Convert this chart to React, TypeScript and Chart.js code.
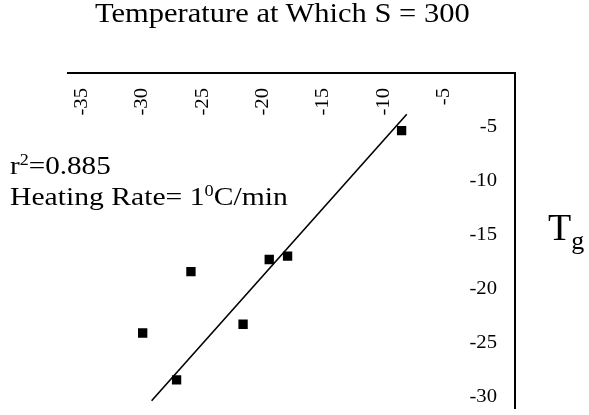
import React, { useEffect, useRef } from "react";
import { Chart, registerables } from "chart.js";

Chart.register(...registerables);

// ---- data ----
const xTickValues = [-35, -30, -25, -20, -15, -10, -5];
const yTickValues = [-5, -10, -15, -20, -25, -30];
const pointX = [-8.5, -17.95, -19.47, -25.96, -21.64, -29.96, -27.15];
const pointY = [-5.34, -16.98, -17.29, -18.41, -23.3, -24.11, -28.46];
const fitX = [-29.22, -8.07];
const fitY = [-30.39, -3.82];
const xBounds = [-36.15, 0.9];
const yBounds = [-31.1, 0];

const titleText = "Temperature at Which S = 300";
const r2Value = "0.885";
const rateValue = "1";

const FONT = '"Liberation Serif", "Times New Roman", serif';

const tickLabelPlugin = {
  id: "innerTickLabels",
  afterDraw(chart: any) {
    const ctx = chart.ctx;
    const xs = chart.scales.x;
    const ys = chart.scales.y;
    const area = chart.chartArea;
    ctx.save();
    ctx.fillStyle = "#000";
    ctx.font = `19.5px ${FONT}`;
    xTickValues.forEach((v) => {
      const px = xs.getPixelForValue(v);
      ctx.save();
      ctx.translate(px, area.top + 15);
      ctx.rotate(-Math.PI / 2);
      ctx.scale(1.06, 1);
      ctx.textAlign = "right";
      ctx.textBaseline = "middle";
      ctx.fillText(String(v), 0, 0);
      ctx.restore();
    });
    yTickValues.forEach((v) => {
      const py = ys.getPixelForValue(v);
      ctx.save();
      ctx.translate(area.right - 18, py);
      ctx.scale(1.06, 1);
      ctx.textAlign = "right";
      ctx.textBaseline = "middle";
      ctx.fillText(String(v), 0, 0);
      ctx.restore();
    });
    ctx.restore();
  },
};

export default function App() {
  const canvasRef = useRef<HTMLCanvasElement | null>(null);

  useEffect(() => {
    if (!canvasRef.current) return;
    const chart = new Chart(canvasRef.current, {
      type: "scatter",
      data: {
        datasets: [
          {
            label: "Tg",
            data: pointX.map((x, i) => ({ x, y: pointY[i] })),
            pointStyle: "rect",
            pointRadius: 6.6,
            pointHoverRadius: 6.6,
            backgroundColor: "#000",
            borderColor: "#000",
            borderWidth: 0,
          },
          {
            label: "fit",
            data: fitX.map((x, i) => ({ x, y: fitY[i] })),
            showLine: true,
            pointRadius: 0,
            borderColor: "#000",
            borderWidth: 1.6,
            backgroundColor: "#000",
          },
        ],
      },
      options: {
        responsive: false,
        animation: false,
        events: [],
        layout: { padding: { left: 68, right: 74, top: 73, bottom: 0 } },
        plugins: {
          legend: { display: false },
          title: { display: false },
          tooltip: { enabled: false },
        },
        scales: {
          x: {
            type: "linear",
            position: "top",
            min: xBounds[0],
            max: xBounds[1],
            grid: { display: true, color: "rgba(0,0,0,0)", drawTicks: false },
            border: { display: true, color: "#000", width: 2 },
            ticks: { display: false },
          },
          y: {
            type: "linear",
            position: "right",
            min: yBounds[0],
            max: yBounds[1],
            grid: { display: true, color: "rgba(0,0,0,0)", drawTicks: false },
            border: { display: true, color: "#000", width: 2 },
            ticks: { display: false },
          },
        },
      },
      plugins: [tickLabelPlugin],
    });
    return () => chart.destroy();
  }, []);

  const supStyle: React.CSSProperties = {
    fontSize: "0.62em",
    position: "relative",
    top: "-0.55em",
    verticalAlign: "baseline",
  };

  return (
    <div
      style={{
        position: "fixed",
        left: 0,
        top: 0,
        width: 589,
        height: 415,
        background: "#fff",
        fontFamily: FONT,
        color: "#000",
        overflow: "hidden",
      }}
    >
      <canvas
        ref={canvasRef}
        width={589}
        height={415}
        style={{ position: "absolute", left: 0, top: 0, width: 589, height: 415 }}
      />
      <div
        style={{
          position: "absolute",
          left: 95,
          top: -1.5,
          fontSize: 28,
          lineHeight: 1,
          whiteSpace: "nowrap",
          transform: "scaleX(1.09)",
          transformOrigin: "left top",
        }}
      >
        {titleText}
      </div>
      <div
        style={{
          position: "absolute",
          left: 10,
          top: 153,
          fontSize: 26,
          lineHeight: 1,
          whiteSpace: "nowrap",
          transform: "scaleX(1.12)",
          transformOrigin: "left top",
        }}
      >
        r<span style={supStyle}>2</span>={r2Value}
      </div>
      <div
        style={{
          position: "absolute",
          left: 10,
          top: 184,
          fontSize: 26,
          lineHeight: 1,
          whiteSpace: "nowrap",
          transform: "scaleX(1.14)",
          transformOrigin: "left top",
        }}
      >
        Heating Rate= {rateValue}
        <span style={supStyle}>0</span>C/min
      </div>
      <div
        style={{
          position: "absolute",
          left: 548,
          top: 208,
          fontSize: 38,
          lineHeight: 1,
          whiteSpace: "nowrap",
        }}
      >
        T
        <sub style={{ fontSize: 26, position: "relative", top: "0.35em", verticalAlign: "baseline" }}>
          g
        </sub>
      </div>
    </div>
  );
}
